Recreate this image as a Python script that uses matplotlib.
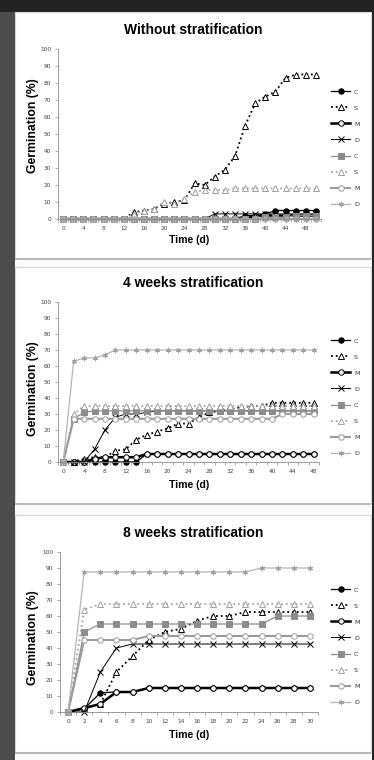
import matplotlib.pyplot as plt
from matplotlib.patches import Rectangle

# canvas size in pixels (dpi 100)
W, H = 374, 760

series_labels = ["C", "S", "M", "D", "C", "S", "M", "D"]

# --- Without stratification: days 0..50 every 2 days ---
days_0w = list(range(0, 51, 2))
c_black_0w = [0] * 18 + [2, 2, 3, 5, 5, 5, 5, 5]
s_black_0w = [0, 0, 0, 0, 0, 0, 0, 4, 5, 6, 9, 10, 11, 21, 20, 25, 29, 37, 55,
              68, 72, 75, 83, 85, 85, 85]
m_black_0w = [0] * 19 + [2] * 7
d_black_0w = [0] * 15 + [3] * 11
c_grey_0w = [0] * 20 + [1, 1, 1, 2, 2, 2]
s_grey_0w = [0, 0, 0, 0, 0, 0, 0, 3, 5, 6, 10, 9, 12, 16, 17, 17, 17, 18, 18,
             18, 18, 18, 18, 18, 18, 18]
m_grey_0w = [0] * 26
d_grey_0w = [0] * 26

# --- 4 weeks stratification: days 0..48 every 2 days ---
days_4w = list(range(0, 49, 2))
c_black_4w = [0, 0, 0, 0, 0, 0, 0, 0] + [5] * 17
s_black_4w = [0, 0, 2, 3, 3, 7, 8, 14, 17, 19, 21, 24, 24, 28, 31, 32, 33, 34,
              35, 35, 37, 37, 37, 37, 37]
m_black_4w = [0, 0, 0, 2, 3, 3, 3, 3] + [5] * 17
d_black_4w = [0, 0, 0, 8, 20, 28, 30, 30, 31] + [32] * 16
c_grey_4w = [0, 27, 31] + [32] * 22
s_grey_4w = [0, 30] + [35] * 23
m_grey_4w = [0] + [27] * 20 + [30] * 4
d_grey_4w = [0, 63, 65, 65, 67] + [70] * 20

# --- 8 weeks stratification: days 0..30 every 2 days ---
days_8w = list(range(0, 31, 2))
c_black_8w = [0, 2, 12, 12.5, 12.5] + [15] * 11
s_black_8w = [0, 2, 5, 25, 35, 45, 50, 52, 57, 60, 60, 62.5, 62.5, 62.5, 62.5, 62.5]
m_black_8w = [0, 2.5, 5, 12.5, 12.5] + [15] * 11
d_black_8w = [0, 0, 25, 40, 42.5] + [42.5] * 11
c_grey_8w = [0, 50] + [55] * 11 + [60] * 3
s_grey_8w = [0, 64] + [67.5] * 14
m_grey_8w = [0, 45, 45, 45, 45] + [47.5] * 11
d_grey_8w = [0] + [87.5] * 11 + [90] * 4

styles = [
    dict(color="black", ls="-", lw=0.9, marker="o", mfc="black", mec="black"),
    dict(color="black", ls=":", lw=1.3, marker="^", mfc="white", mec="black"),
    dict(color="black", ls="-", lw=1.8, marker="o", mfc="white", mec="black"),
    dict(color="black", ls="-", lw=0.7, marker="x", mfc="none", mec="black"),
    dict(color="#8c8c8c", ls="-", lw=0.9, marker="s", mfc="#8c8c8c", mec="#8c8c8c"),
    dict(color="#a6a6a6", ls=":", lw=1.3, marker="^", mfc="white", mec="#a0a0a0"),
    dict(color="#9a9a9a", ls="-", lw=1.5, marker="o", mfc="white", mec="#9a9a9a"),
    dict(color="#b4b4b4", ls="-", lw=0.9, marker=(6, 2, 0), mfc="none", mec="#a0a0a0"),
]

panels = [
    dict(title="Without stratification", days=days_0w, label_step=4,
         series=[c_black_0w, s_black_0w, m_black_0w, d_black_0w,
                 c_grey_0w, s_grey_0w, m_grey_0w, d_grey_0w],
         frame=(15, 12, 371, 258), axes=(58, 49, 321, 219),
         title_y=30, xlabel_y=240, ylabel_y=126, legend_y=148),
    dict(title="4 weeks stratification", days=days_4w, label_step=4,
         series=[c_black_4w, s_black_4w, m_black_4w, d_black_4w,
                 c_grey_4w, s_grey_4w, m_grey_4w, d_grey_4w],
         frame=(15, 267, 371, 503), axes=(58, 302, 319, 462),
         title_y=283, xlabel_y=485, ylabel_y=389, legend_y=397),
    dict(title="8 weeks stratification", days=days_8w, label_step=2,
         series=[c_black_8w, s_black_8w, m_black_8w, d_black_8w,
                 c_grey_8w, s_grey_8w, m_grey_8w, d_grey_8w],
         frame=(15, 515, 371, 752), axes=(60, 552, 318, 712),
         title_y=533, xlabel_y=735, ylabel_y=638, legend_y=646),
]

FONT = "Liberation Sans"


def fbox(x0, y0, x1, y1):
    """pixel box (top-left origin) -> figure fraction [l, b, w, h]"""
    return [x0 / W, 1 - y1 / H, (x1 - x0) / W, (y1 - y0) / H]


fig = plt.figure(figsize=(W / 100, H / 100), dpi=100, facecolor="#222222")

# page background and left strip, kept below the axes
fig.patches.append(Rectangle((15 / W, 0), 357 / W, 1 - 12 / H,
                             transform=fig.transFigure, facecolor="#fbfbfb",
                             edgecolor="none", zorder=-3))
fig.patches.append(Rectangle((0, 0), 15 / W, 1 - 12 / H,
                             transform=fig.transFigure, facecolor="#4c4c4c",
                             edgecolor="none", zorder=-3))

for p in panels:
    x0, y0, x1, y1 = p["frame"]
    l, b, w, h = fbox(x0, y0, x1, y1)
    fig.patches.append(Rectangle((l, b), w, h, transform=fig.transFigure,
                                 facecolor="white", edgecolor="#d6d6d6",
                                 lw=0.8, zorder=-2))
    # darker bottom edge of the frame
    fig.patches.append(Rectangle((l, b - 1.5 / H), w, 2 / H,
                                 transform=fig.transFigure,
                                 facecolor="#b8b8b8", edgecolor="none", zorder=-1))

    ax = fig.add_axes(fbox(*p["axes"]))
    ax.set_facecolor("none")
    days = p["days"]
    handles = []
    for vals, st in zip(p["series"], styles):
        ln, = ax.plot(days, vals, color=st["color"], ls=st["ls"], lw=st["lw"],
                      marker=st["marker"], ms=3.9, mfc=st["mfc"], mec=st["mec"],
                      mew=0.7, clip_on=False)
        handles.append(ln)

    ax.set_xlim(-1, days[-1] + 1)
    ax.set_ylim(0, 100)
    for side in ("top", "right"):
        ax.spines[side].set_visible(False)
    for side in ("left", "bottom"):
        ax.spines[side].set_color("#8a8a8a")
        ax.spines[side].set_linewidth(0.6)

    ax.set_yticks(range(0, 101, 10))
    ax.set_xticks(range(0, days[-1] + 1, p["label_step"]))
    ax.set_xticks(range(-1, days[-1] + 2, 2), minor=True)
    ax.tick_params(axis="y", length=2, width=0.5, color="#8a8a8a", pad=3,
                   labelsize=4.2, labelcolor="#444444")
    ax.tick_params(axis="x", which="major", length=0, pad=5,
                   labelsize=4.2, labelcolor="#444444")
    ax.tick_params(axis="x", which="minor", length=2, width=0.5, color="#8a8a8a")

    fig.text(193 / W, 1 - p["title_y"] / H, p["title"], ha="center",
             va="center", fontsize=10, fontweight="bold", family=FONT)
    fig.text(189 / W, 1 - p["xlabel_y"] / H, "Time (d)", ha="center",
             va="center", fontsize=7.6, fontweight="bold", family=FONT)
    fig.text(33 / W, 1 - p["ylabel_y"] / H, "Germination (%)", ha="center",
             va="center", rotation=90, fontsize=8.8, fontweight="bold",
             family=FONT)

    ax.legend(handles, series_labels, loc="center left",
              bbox_to_anchor=(331 / W, 1 - p["legend_y"] / H),
              bbox_transform=fig.transFigure, frameon=False, fontsize=4.6,
              handlelength=3.0, handletextpad=0.6, labelspacing=1.65,
              borderpad=0, borderaxespad=0, markerscale=1.0,
              labelcolor="#333333")

fig.savefig("out.png", dpi=100, facecolor=fig.get_facecolor())
